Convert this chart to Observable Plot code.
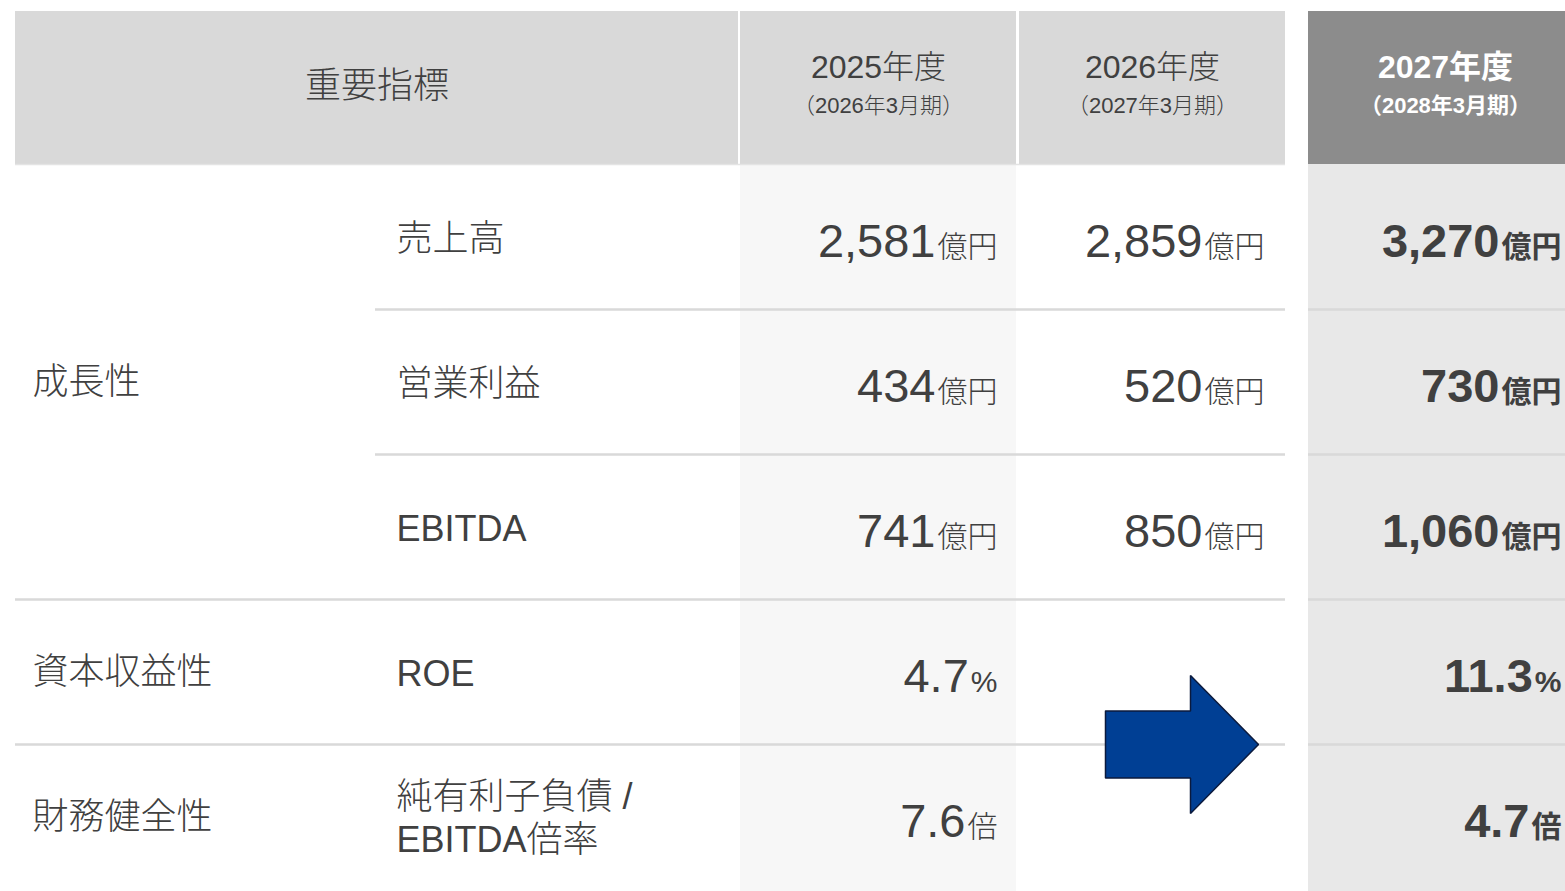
<!DOCTYPE html>
<html><head><meta charset="utf-8">
<script src="https://cdn.jsdelivr.net/npm/d3@7"></script>
<script src="https://cdn.jsdelivr.net/npm/@observablehq/plot@0.6"></script>
<style>
html,body{margin:0;padding:0;background:#fff;}
#chart svg{display:block;}
</style></head><body><div id="chart"></div>
<script>
// ---------- data ----------
const headerTitle = "重要指標";
const periods = ["2025年度", "2026年度", "2027年度"];
const periodNotes = ["（2026年3月期）", "（2027年3月期）", "（2028年3月期）"];
const categories = ["成長性", "成長性", "成長性", "資本収益性", "財務健全性"];
const metrics = ["売上高", "営業利益", "EBITDA", "ROE", "純有利子負債 /\nEBITDA倍率"];
const units = ["億円", "億円", "億円", "%", "倍"];
const decimals = [0, 0, 0, 1, 1];
const fy2025 = [2581, 434, 741, 4.7, 7.6];
const fy2026 = [2859, 520, 850, null, null];
const fy2027 = [3270, 730, 1060, 11.3, 4.7];
const series = [fy2025, fy2026, fy2027];

// ---------- layout / style ----------
const W = 1565, H = 891;
const FONT = '"Liberation Sans", Arial, "Noto Sans CJK JP", sans-serif';
const TEXT = "#404040";
const LIGHT = 300;
const header = {y1: 11, y2: 164};
const bodyRange = [164, 889];
const labelCol = {x1: 15, x2: 738, catX: 32, metricX: 396, innerRuleX: 375};
const periodCols = [
  {x1: 740, x2: 1016, right: 997, bg: "#f7f7f7", head: "#d9d9d9", headText: TEXT, weight: "normal"},
  {x1: 1019, x2: 1285, right: 1264, bg: "#ffffff", head: "#d9d9d9", headText: TEXT, weight: "normal"},
  {x1: 1308, x2: 1582, right: 1561, bg: "#e8e8e8", head: "#8c8c8c", headText: "#ffffff", weight: "bold"}
];
const ruleColor = "#d9d9d9";
const valueSize = 47, unitSize = 30, labelSize = 36;
const arrowSpec = {tail: 86, neck: 171, tip: 239, bodyHalf: 33.5, headHalf: 69, fill: "#003f94", stroke: "#0b1a3d"};

// ---------- scales ----------
const rowScale = Plot.scale({y: {type: "band", domain: metrics, range: bodyRange, padding: 0}});
const bw = rowScale.bandwidth;
const rowTop = (i) => rowScale.apply(metrics[i]);
const rowMid = (i) => rowTop(i) + bw / 2;

// text measuring for unit offsets
const ctx = document.createElement("canvas").getContext("2d");
function measure(txt, size, weight) {
  ctx.font = `${weight} ${size}px ${FONT}`;
  return ctx.measureText(txt).width;
}

// ---------- derived tables ----------
const headerCells = [
  {x1: labelCol.x1, x2: labelCol.x2, fill: "#d9d9d9"},
  ...periodCols.map(c => ({x1: c.x1, x2: c.x2, fill: c.head}))
];
const colBgs = periodCols.map(c => ({x1: c.x1, x2: c.x2, fill: c.bg}));

const boundaries = d3.range(1, metrics.length).map(i => ({
  y: rowTop(i),
  x1: categories[i] === categories[i - 1] ? labelCol.innerRuleX : labelCol.x1,
  x2: periodCols[1].x2
}));
const boundaries2027 = d3.range(1, metrics.length).map(i => ({
  y: rowTop(i), x1: periodCols[2].x1, x2: W
}));

const groups = Array.from(d3.group(metrics.map((m, i) => ({m, i, c: categories[i]})), d => d.c),
  ([c, rows]) => ({text: c, y: (rowTop(rows[0].i) + rowTop(rows[rows.length - 1].i) + bw) / 2}));

const metricLabels = metrics.map((m, i) => ({text: m, y: rowMid(i)}));

const cells = [];
metrics.forEach((m, i) => {
  series.forEach((arr, j) => {
    const v = arr[i];
    if (v == null) return;
    const col = periodCols[j];
    const uw = measure(units[i], unitSize, col.weight === "bold" ? "bold" : LIGHT);
    cells.push({
      text: d3.format(decimals[i] ? ",.1f" : ",d")(v),
      unit: units[i],
      y: rowMid(i) + 20,
      unitX: col.right,
      numX: col.right - uw - 2,
      weight: col.weight
    });
  });
});
const regCells = cells.filter(d => d.weight === "normal");
const boldCells = cells.filter(d => d.weight === "bold");

const periodHeads = periods.map((p, j) => ({
  text: p, note: periodNotes[j], x: (periodCols[j].x1 + periodCols[j].x2) / 2,
  fill: periodCols[j].headText, weight: periodCols[j].weight
}));

const ax = periodCols[1].x1, ay = rowTop(4);
const A = arrowSpec;
const arrowPts = [[A.tail, -A.bodyHalf], [A.neck, -A.bodyHalf], [A.neck, -A.headHalf], [A.tip, 0],
  [A.neck, A.headHalf], [A.neck, A.bodyHalf], [A.tail, A.bodyHalf], [A.tail, -A.bodyHalf]]
  .map(([dx, dy]) => ({x: ax + dx, y: ay + dy}));

const headMid = (header.y1 + header.y2) / 2;

const chart = Plot.plot({
  width: W, height: H, margin: 0,
  x: {type: "identity", axis: null},
  y: {type: "identity", axis: null},
  style: {fontFamily: FONT, background: "#fff"},
  marks: [
    Plot.rect(colBgs, {x1: "x1", x2: "x2", y1: header.y2, y2: H, fill: "fill"}),
    Plot.rect(headerCells, {x1: "x1", x2: "x2", y1: header.y1, y2: header.y2, fill: "fill"}),
    Plot.ruleY([header.y2], {x1: labelCol.x1, x2: periodCols[1].x2, stroke: "#e4e4e4", strokeWidth: 1.5}),
    Plot.ruleY(boundaries, {y: "y", x1: "x1", x2: "x2", stroke: ruleColor, strokeWidth: 2.5}),
    Plot.ruleY(boundaries2027, {y: "y", x1: "x1", x2: "x2", stroke: ruleColor, strokeWidth: 2.5}),
    // header texts
    Plot.text([headerTitle], {x: (labelCol.x1 + labelCol.x2) / 2, y: headMid - 2, text: d => d, fontSize: labelSize, fontWeight: LIGHT, fill: TEXT}),
    Plot.text(periodHeads.filter(d => d.weight === "normal"), {x: "x", y: headMid - 20, text: "text", fontSize: 32, fontWeight: LIGHT, fill: "fill"}),
    Plot.text(periodHeads.filter(d => d.weight === "normal"), {x: "x", y: headMid + 18, text: "note", fontSize: 22, fontWeight: LIGHT, fill: "fill"}),
    Plot.text(periodHeads.filter(d => d.weight === "bold"), {x: "x", y: headMid - 20, text: "text", fontSize: 32, fontWeight: "bold", fill: "fill"}),
    Plot.text(periodHeads.filter(d => d.weight === "bold"), {x: "x", y: headMid + 18, text: "note", fontSize: 22, fontWeight: "bold", fill: "fill"}),
    // row labels
    Plot.text(groups, {x: labelCol.catX, y: "y", text: "text", textAnchor: "start", fontSize: labelSize, fontWeight: LIGHT, fill: TEXT}),
    Plot.text(metricLabels, {x: labelCol.metricX, y: "y", text: "text", textAnchor: "start", fontSize: labelSize, fontWeight: LIGHT, lineHeight: 1.2, fill: TEXT}),
    // values
    Plot.text(regCells, {x: "numX", y: "y", text: "text", textAnchor: "end", lineAnchor: "bottom", fontSize: valueSize, fontWeight: LIGHT, fill: TEXT}),
    Plot.text(regCells, {x: "unitX", y: "y", text: "unit", textAnchor: "end", lineAnchor: "bottom", fontSize: unitSize, fontWeight: LIGHT, fill: TEXT}),
    Plot.text(boldCells, {x: "numX", y: "y", text: "text", textAnchor: "end", lineAnchor: "bottom", fontSize: valueSize, fontWeight: "bold", fill: TEXT}),
    Plot.text(boldCells, {x: "unitX", y: "y", text: "unit", textAnchor: "end", lineAnchor: "bottom", fontSize: unitSize, fontWeight: "bold", fill: TEXT}),
    // arrow
    Plot.line(arrowPts, {x: "x", y: "y", fill: A.fill, stroke: A.stroke, strokeWidth: 1.5, strokeLinejoin: "miter", curve: "linear"})
  ]
});
document.getElementById("chart").appendChild(chart);
</script>
</body></html>
